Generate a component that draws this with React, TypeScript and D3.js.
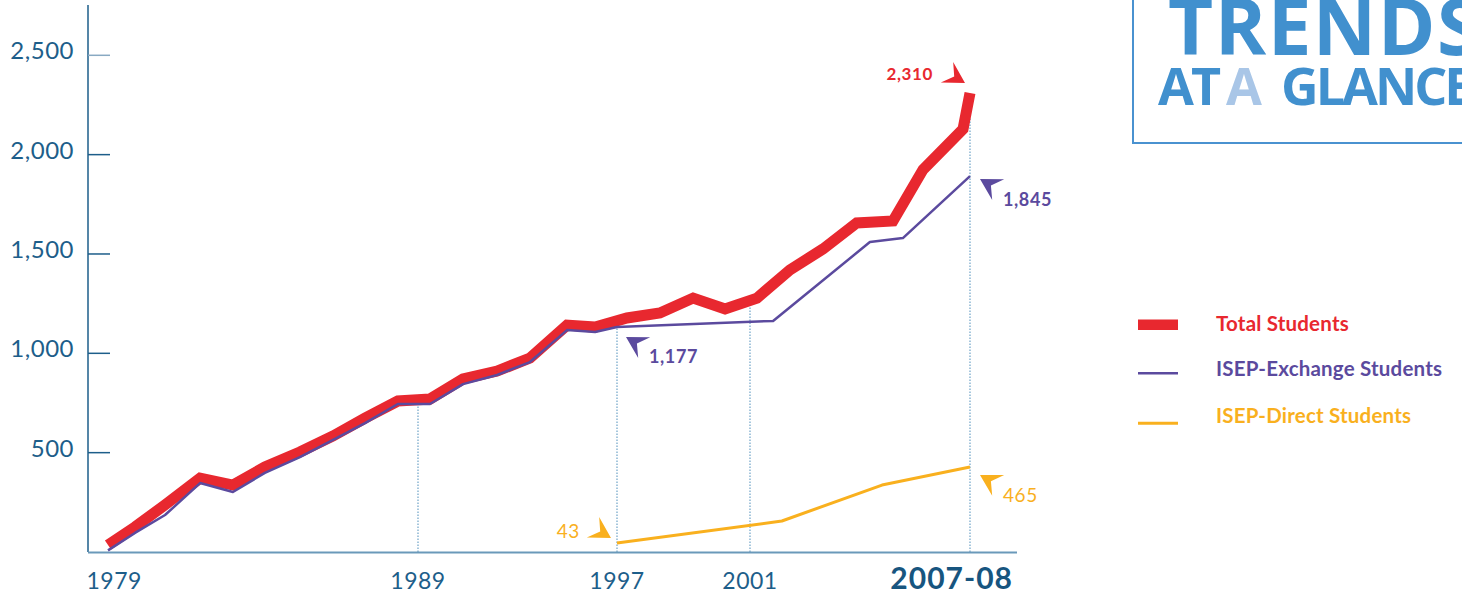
import React from 'react';
import * as d3 from 'd3';

// ---------- data ----------
const totalYears = [1979.0, 1979.87, 1980.84, 1981.97, 1983.03, 1984.06, 1985.19, 1986.26, 1987.29, 1988.35, 1989.48, 1990.81, 1992.18, 1993.5, 1994.99, 1996.12, 1997.3, 1998.29, 1999.29, 2000.25, 2001.19, 2002.09, 2002.99, 2003.91, 2004.9, 2005.72, 2006.81, 2007.0];
const totalValues = [35, 126, 237, 372, 337, 428, 503, 584, 674, 760, 770, 871, 911, 976, 1142, 1132, 1178, 1203, 1278, 1223, 1278, 1420, 1525, 1656, 1666, 1925, 2129, 2310];

const exchangeYears = [1979.0, 1979.87, 1980.84, 1981.97, 1983.03, 1984.06, 1985.19, 1986.26, 1987.29, 1988.35, 1989.48, 1990.81, 1992.18, 1993.5, 1994.99, 1996.12, 1997.0, 2001.63, 2004.27, 2005.17, 2007.0];
const exchangeValues = [8, 96, 186, 347, 302, 398, 478, 564, 649, 745, 745, 845, 891, 956, 1117, 1107, 1132, 1163, 1560, 1580, 1892];

const directYears = [1997.0, 2001.87, 2004.6, 2007.0];
const directValues = [45, 156, 337, 428];

const yTicks = [500, 1000, 1500, 2000, 2500];
const yTickLabels = ['500', '1,000', '1,500', '2,000', '2,500'];
const xTickYears = [1979.2, 1989, 1997, 2001, 2006.5];
const xTickLabels = ['1979', '1989', '1997', '2001', '2007-08'];
const guideYears = [1989, 1997, 2001, 2007];

const legendLabels = ['Total Students', 'ISEP-Exchange Students', 'ISEP-Direct Students'];

const annotationSeries = ['total', 'exchange', 'exchange', 'direct', 'direct'];
const annotationYears = [2007, 2007, 1997, 1997, 2007];
const annotationValues = [2310, 1892, 1132, 45, 428];
const annotationLabels = ['2,310', '1,845', '1,177', '43', '465'];

// ---------- styles / layout ----------
const RED = '#e8282f';
const PURPLE = '#5b4a9e';
const YELLOW = '#f9b01e';
const AXIS = '#1d5e8a';
const TITLE = '#4190ce';
const FONT = 'Lato, "Open Sans", sans-serif';

const W = 1462;
const H = 603;

const x = d3.scaleLinear().domain([1979, 1989, 1997, 2001, 2007]).range([108, 418, 617, 750, 970]);
const y = d3.scaleLinear().domain([0, 2500]).range([552, 55.3]);

const colorOf: Record<string, string> = { total: RED, exchange: PURPLE, direct: YELLOW };
const legendColors = [RED, PURPLE, YELLOW];
const legendBaselines = [330.5, 375.5, 423];

// arrow layout per annotation: tip offset from point, direction, text offset from tip, anchor, weight
const annLayout = [
  { dx: -5, dy: -10, ang: 31, tx: -32, ty: -3, anchor: 'end', weight: 700, size: 17 },
  { dx: 10, dy: 3, ang: 210, tx: 23, ty: 27, anchor: 'start', weight: 700, size: 18 },
  { dx: 9, dy: 10, ang: 210, tx: 23, ty: 26, anchor: 'start', weight: 700, size: 18 },
  { dx: -6, dy: -5, ang: 31, tx: -31, ty: 0, anchor: 'end', weight: 400, size: 19 },
  { dx: 10, dy: 8, ang: 210, tx: 23, ty: 27, anchor: 'start', weight: 400, size: 19 },
];

function arrowPath(tx: number, ty: number, angDeg: number) {
  const L = 21, Wd = 12;
  const a = (angDeg * Math.PI) / 180;
  const c = Math.cos(a), s = Math.sin(a);
  const pts = [[0, 0], [-L, -Wd], [-0.6 * L, 0], [-L, Wd]].map(([px, py]) => [tx + px * c - py * s, ty + px * s + py * c]);
  return 'M' + pts.map((p) => p[0].toFixed(2) + ',' + p[1].toFixed(2)).join('L') + 'Z';
}

export default function App() {
  const line = d3.line<[number, number]>().x((d) => x(d[0])).y((d) => y(d[1])).curve(d3.curveLinear);
  const total = totalYears.map((t, i) => [t, totalValues[i]] as [number, number]);
  const exchange = exchangeYears.map((t, i) => [t, exchangeValues[i]] as [number, number]);
  const direct = directYears.map((t, i) => [t, directValues[i]] as [number, number]);
  const totalAt = d3.scaleLinear().domain(totalYears).range(totalValues);

  return (
    <svg width={W} height={H} style={{ position: 'absolute', left: 0, top: 0, background: '#fff' }} fontFamily={FONT}>
      {/* title box */}
      <rect x={1133} y={-10} width={400} height={153} fill="none" stroke="#4a92d0" strokeWidth={2} />
      <text x={1168} y={55} fontFamily='"Open Sans", sans-serif' fontWeight={700} fontSize={78} fill={TITLE} letterSpacing={1.5}>TRENDS</text>
      <text y={105} fontFamily='"Open Sans", sans-serif' fontWeight={700} fontSize={52} fill={TITLE} letterSpacing={-3}>
        <tspan x={1158}>AT</tspan>
        <tspan x={1226} fill="#a9c6e7">A</tspan>
        <tspan x={1281}>GLANCE</tspan>
      </text>

      {/* guides */}
      {guideYears.map((g) => (
        <line key={g} x1={x(g)} x2={x(g)} y1={y(0)} y2={y(totalAt(g))} stroke="#4f8fbb" strokeWidth={1} strokeDasharray="1.5,1.5" />
      ))}

      {/* axes */}
      <line x1={88} x2={88} y1={5} y2={y(0)} stroke={AXIS} strokeWidth={1.5} />
      <line x1={88} x2={1017} y1={y(0) + 0.5} y2={y(0) + 0.5} stroke="#6a99ba" strokeWidth={2} />
      {yTicks.map((t, i) => (
        <g key={t}>
          <line x1={88} x2={110} y1={y(t)} y2={y(t)} stroke={t === 2500 ? '#88a9c2' : AXIS} strokeWidth={1.5} />
          <text x={74} y={y(t) + 4} textAnchor="end" fontSize={24} fill={AXIS} letterSpacing={0.5}>{yTickLabels[i]}</text>
        </g>
      ))}
      {xTickYears.map((t, i) => (
        <text key={t} x={x(t)} y={589} textAnchor="middle" fontSize={i === 4 ? 30 : 23} fontWeight={i === 4 ? 700 : 400} fill={i === 4 ? '#17557f' : AXIS} letterSpacing={i === 4 ? 1 : 0.5}>
          {xTickLabels[i]}
        </text>
      ))}

      {/* series */}
      <path d={line(direct) || ''} fill="none" stroke={YELLOW} strokeWidth={3} strokeLinejoin="round" />
      <path d={line(total) || ''} fill="none" stroke={RED} strokeWidth={11} strokeLinejoin="miter" strokeLinecap="butt" />
      <path d={line(exchange) || ''} fill="none" stroke={PURPLE} strokeWidth={2.5} strokeLinejoin="round" />

      {/* annotations */}
      {annotationLabels.map((lab, i) => {
        const L = annLayout[i];
        const px = x(annotationYears[i]);
        const py = y(annotationValues[i]);
        const tx = px + L.dx;
        const ty = py + L.dy;
        const col = colorOf[annotationSeries[i]];
        return (
          <g key={lab}>
            <path d={arrowPath(tx, ty, L.ang)} fill={col} />
            <text x={tx + L.tx} y={ty + L.ty} textAnchor={L.anchor as any} fontWeight={L.weight} fontSize={L.size} fill={col} letterSpacing={0.6}>{lab}</text>
          </g>
        );
      })}

      {/* legend */}
      <rect x={1138} y={319.5} width={40} height={10.5} fill={RED} />
      <line x1={1138} x2={1178} y1={373.3} y2={373.3} stroke={PURPLE} strokeWidth={2.5} />
      <line x1={1138} x2={1178} y1={423.3} y2={423.3} stroke={YELLOW} strokeWidth={3} />
      {legendLabels.map((lab, i) => (
        <text key={lab} x={1216} y={legendBaselines[i]} fontSize={20.5} fontWeight={700} fill={legendColors[i]} letterSpacing={0.2}>{lab}</text>
      ))}
    </svg>
  );
}
